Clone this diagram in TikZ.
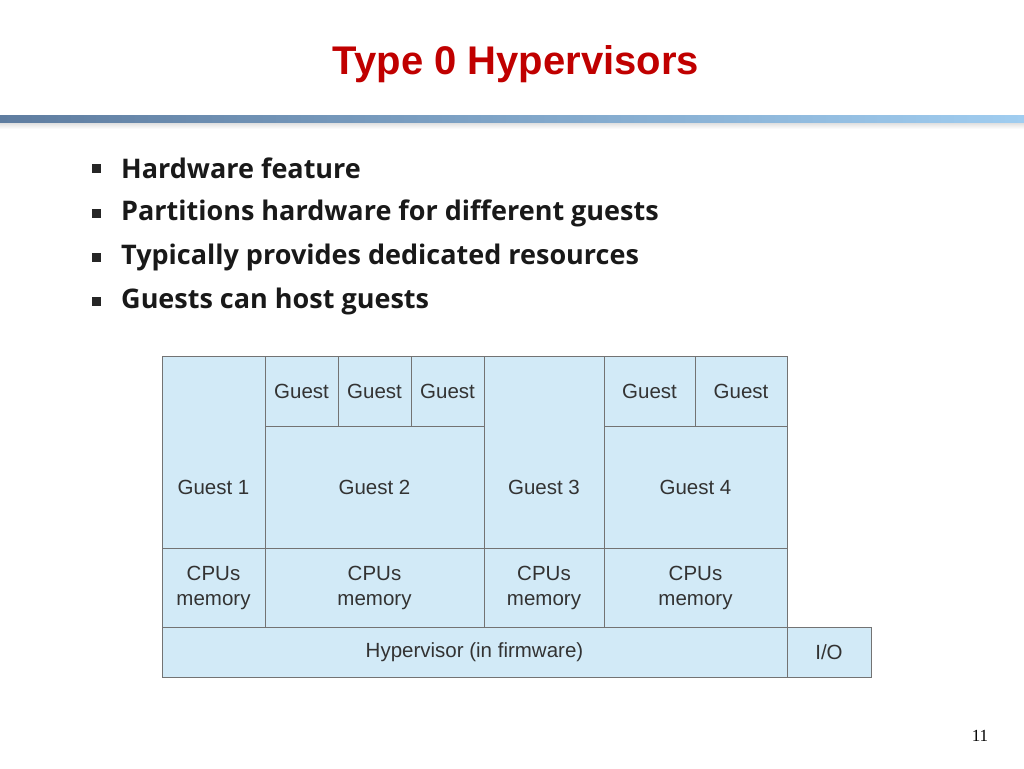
\documentclass[tikz,border=0pt]{standalone}
\usepackage{fontspec}
\setmainfont{Liberation Sans}
\newfontfamily\bulfont{Open Sans}
\newfontfamily\serfont{Liberation Serif}
\begin{document}
\begin{tikzpicture}[x=1pt,y=-1pt,
 lb/.style={font=\fontsize{20.5}{25}\selectfont,text=black!80,align=center},
 bul/.style={anchor=west,font=\bulfont\bfseries\fontsize{27}{30}\selectfont,text=black!90}]
\definecolor{boxc}{HTML}{D2EAF7}
\useasboundingbox (0,0) rectangle (1024,768);
\node[font=\bfseries\fontsize{40}{44}\selectfont,text={rgb,255:red,192;green,0;blue,0}] (title) at (516,64) {Type 0 Hypervisors};
\shade[left color={rgb,255:red,95;green,125;blue,160},right color={rgb,255:red,160;green,205;blue,240}] (0,115) rectangle (1024,123);
\shade[top color=black!12,bottom color=white] (0,123) rectangle (1024,129);
\foreach \t/\y [count=\i] in {Hardware feature/168,Partitions hardware for different guests/213,Typically provides dedicated resources/257,Guests can host guests/301}{
 \fill[black!85] (92,\y-4.5) rectangle (101,\y+4.5);
 \node[bul,inner sep=0pt] (b\i) at (121,\y) {\t};}
\tikzset{bx/.style={draw=black!55,fill=boxc,line width=0.8pt}}
\newcommand\bb[7]{\draw[bx] (#2,#3) rectangle (#4,#5); \node[lb] (#1) at ({(#2+#4)/2},#6) {#7};}
\bb{g1}{162}{356}{265}{548}{487}{Guest 1}
\bb{ga}{265}{356}{338}{426}{391}{Guest}
\bb{gb}{338}{356}{411}{426}{391}{Guest}
\bb{gc}{411}{356}{484}{426}{391}{Guest}
\bb{g2}{265}{426}{484}{548}{487}{Guest 2}
\bb{g3}{484}{356}{604}{548}{487}{Guest 3}
\bb{gd}{604}{356}{695}{426}{391}{Guest}
\bb{ge}{695}{356}{787}{426}{391}{Guest}
\bb{g4}{604}{426}{787}{548}{487}{Guest 4}
\bb{c1}{162}{548}{265}{627}{588}{CPUs\\memory}
\bb{c2}{265}{548}{484}{627}{588}{CPUs\\memory}
\bb{c3}{484}{548}{604}{627}{588}{CPUs\\memory}
\bb{c4}{604}{548}{787}{627}{588}{CPUs\\memory}
\bb{hv}{162}{627}{787}{677}{652}{Hypervisor (in firmware)}
\bb{io}{787}{627}{871}{677}{652}{I/O}
\node[font=\serfont\fontsize{17}{19}\selectfont] (pg) at (980,736) {11};
\end{tikzpicture}
\end{document}
